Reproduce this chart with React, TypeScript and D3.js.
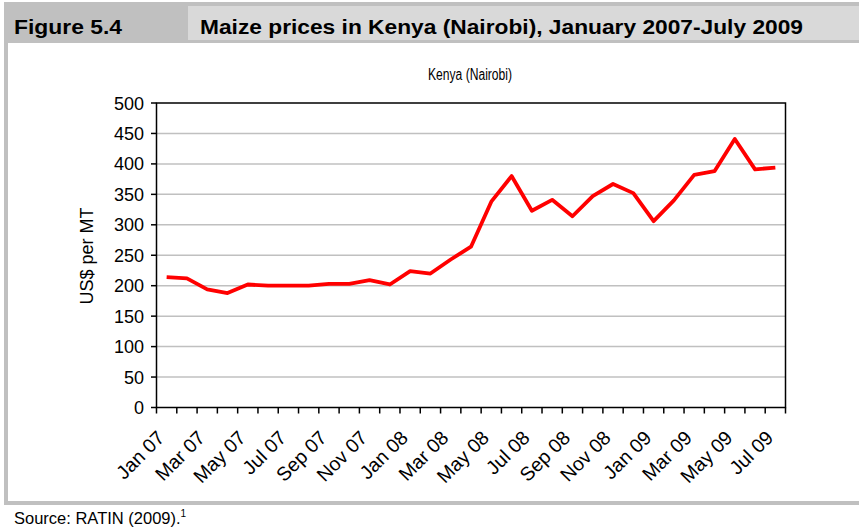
import React from "react";
import * as d3 from "d3";

const months: string[] = [
  "Jan 07","Feb 07","Mar 07","Apr 07","May 07","Jun 07","Jul 07","Aug 07","Sep 07","Oct 07","Nov 07","Dec 07",
  "Jan 08","Feb 08","Mar 08","Apr 08","May 08","Jun 08","Jul 08","Aug 08","Sep 08","Oct 08","Nov 08","Dec 08",
  "Jan 09","Feb 09","Mar 09","Apr 09","May 09","Jun 09","Jul 09",
];
const prices: number[] = [
  214, 212, 194, 188, 202, 200, 200, 200, 203, 203, 209, 202,
  224, 220, 243, 264, 338, 380, 323, 341, 314, 347, 367, 352,
  306, 340, 382, 388, 441, 391, 394,
];
const yTicks: number[] = [0, 50, 100, 150, 200, 250, 300, 350, 400, 450, 500];
const figureLabel = "Figure 5.4";
const figureTitle = "Maize prices in Kenya (Nairobi), January 2007-July 2009";
const chartTitle = "Kenya (Nairobi)";
const yAxisTitle = "US$ per MT";
const sourceText = "Source: RATIN (2009).";

export default function App() {
  const W = 859, H = 530;
  const left = 156.5, right = 785.5, top = 103, bottom = 407.5;
  const x = d3.scaleLinear().domain([0, months.length]).range([left, right]);
  const y = d3.scaleLinear().domain([0, 500]).range([bottom, top]);
  const line = d3.line<number>().x((_, i) => x(i + 0.5)).y((d) => y(d));
  const tickIdx = d3.range(months.length + 1);
  const font = "'Liberation Sans', Arial, sans-serif";

  return (
    <svg width={W} height={H} style={{ position: "absolute", left: 0, top: 0, background: "#fff" }} fontFamily={font}>
      {/* header */}
      <rect x={4} y={2} width={855} height={41} fill="#c0c0c0" />
      <rect x={188} y={6} width={671} height={34} fill="#d9d9d9" />
      <text x={14} y={34} fontSize={21} fontWeight="bold" textLength={108} lengthAdjust="spacingAndGlyphs">{figureLabel}</text>
      <text x={200} y={34} fontSize={21} fontWeight="bold" textLength={603} lengthAdjust="spacingAndGlyphs">{figureTitle}</text>
      {/* frame */}
      <rect x={4} y={43} width={4} height={462} fill="#c0c0c0" />
      <rect x={4} y={501} width={855} height={4} fill="#c0c0c0" />
      <text x={14} y={524} fontSize={16.5}>
        {sourceText}
        <tspan fontSize={10} dy={-7}>1</tspan>
      </text>

      {/* chart title */}
      <text x={470} y={80} fontSize={16} textAnchor="middle" textLength={84} lengthAdjust="spacingAndGlyphs">{chartTitle}</text>

      {/* gridlines */}
      {yTicks.filter((t) => t > 0 && t < 500).map((t) => (
        <line key={"g" + t} x1={left} x2={right} y1={y(t)} y2={y(t)} stroke="#c0c0c0" strokeWidth={1.5} />
      ))}
      {/* plot frame */}
      <rect x={left} y={top} width={right - left} height={bottom - top} fill="none" stroke="#000" strokeWidth={1.5} />

      {/* y ticks & labels */}
      {yTicks.map((t) => (
        <g key={"y" + t}>
          <line x1={151} x2={left} y1={y(t)} y2={y(t)} stroke="#000" strokeWidth={1.5} />
          <text x={144} y={y(t) + 6.5} fontSize={18} textAnchor="end">{t}</text>
        </g>
      ))}
      <text transform={`translate(93,256) rotate(-90)`} fontSize={18} textAnchor="middle">{yAxisTitle}</text>

      {/* x ticks */}
      {tickIdx.map((i) => (
        <line key={"xt" + i} x1={x(i)} x2={x(i)} y1={bottom} y2={bottom + 6} stroke="#000" strokeWidth={1.5} />
      ))}
      {months.map((m, i) => i % 2 === 0 ? (
        <text key={"xl" + i} transform={`translate(${x(i + 0.5) - 1},${439}) rotate(-45)`} fontSize={19.5} textAnchor="end">{m}</text>
      ) : null)}

      {/* series */}
      <path d={line(prices) || ""} fill="none" stroke="#ff0000" strokeWidth={3.8} strokeLinejoin="round" />
    </svg>
  );
}
